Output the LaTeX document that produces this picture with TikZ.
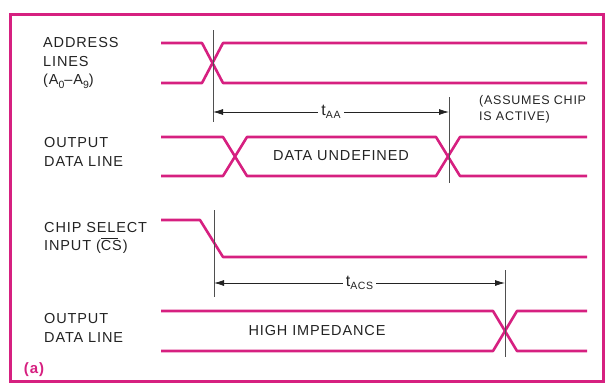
\documentclass[tikz,border=0pt]{standalone}
\usepackage{fontspec}
\setmainfont{Liberation Sans}[LetterSpace=6]
\usetikzlibrary{arrows.meta}
\definecolor{mag}{RGB}{214,32,128}
\definecolor{ink}{RGB}{35,35,35}
\newcommand{\subx}[1]{\raisebox{-3.5pt}{\fontsize{10.5}{11}\selectfont #1}}
\begin{document}
\begin{tikzpicture}[x=1pt,y=-1pt,
  wave/.style={draw=mag,line width=2.6pt,line join=round},
  frame/.style={draw=mag,line width=3pt},
  lbl/.style={anchor=west,inner sep=0pt,text=ink,font=\fontsize{14.5}{18.5}\selectfont,align=left},
  mid/.style={inner sep=0pt,text=ink,font=\fontsize{14.5}{18}\selectfont},
  tick/.style={draw=ink!80,line width=0.8pt},
  dim/.style={draw=ink,line width=0.8pt,{Latex[length=10pt,width=6pt]}-{Latex[length=10pt,width=6pt]}},
  tl/.style={fill=white,inner sep=3pt,text=ink,font=\fontsize{16}{18}\selectfont}]
\useasboundingbox (0,0) rectangle (605,383);
\draw[frame] (10,14) rectangle (603,381);
% labels
\node[lbl] (la) at (43,63) {ADDRESS\\LINES\\(A\subx{0}--A\subx{9})};
\node[lbl] (lo1) at (44,152) {OUTPUT\\DATA LINE};
\node[lbl] (lc) at (44,238) {CHIP SELECT\\INPUT (\makebox[0pt][l]{\rule[12pt]{17pt}{0.7pt}}CS)};
\node[lbl] (lo2) at (44,328) {OUTPUT\\DATA LINE};
\node[inner sep=0pt,text=mag,font=\bfseries\fontsize{15}{16}\selectfont] (fa) at (34,370) {(a)};
% address lines
\draw[wave] (161,43) -- (202,43) -- (223,83) -- (587,83);
\draw[wave] (161,83) -- (202,83) -- (223,43) -- (587,43);
% output data line 1
\draw[wave] (161,137) -- (223,137) -- (247,176) -- (436,176) -- (460,137) -- (587,137);
\draw[wave] (161,176) -- (223,176) -- (247,137) -- (436,137) -- (460,176) -- (587,176);
\node[mid] (du) at (341,156) {DATA UNDEFINED};
% chip select
\draw[wave] (161,220) -- (200,220) -- (223,257) -- (587,257);
% output data line 2
\draw[wave] (161,311) -- (493,311) -- (517,351) -- (587,351);
\draw[wave] (161,351) -- (493,351) -- (517,311) -- (587,311);
\node[mid] (hi) at (317,331) {HIGH IMPEDANCE};
% verticals
\coordinate (v1t) at (213,30); \coordinate (v1b) at (213,122);
\coordinate (v2t) at (449,97); \coordinate (v2b) at (449,183);
\coordinate (v3t) at (214,210); \coordinate (v3b) at (214,297);
\coordinate (v4t) at (505,270); \coordinate (v4b) at (505,357);
\draw[tick] (v1t) -- (v1b);
\draw[tick] (v2t) -- (v2b);
\draw[tick] (v3t) -- (v3b);
\draw[tick] (v4t) -- (v4b);
% dimension arrows
\coordinate (a1) at (213,112); \coordinate (a2) at (449,112);
\draw[dim] (a1) -- node[tl] (taa) {t\subx{AA}} (a2);
\coordinate (b1) at (214,283); \coordinate (b2) at (505,283);
\draw[dim] (b1) -- node[tl,pos=0.5] (tacs) {t\subx{ACS}} (b2);
\node[lbl,font=\fontsize{12.5}{16}\selectfont] (as) at (479,109) {(ASSUMES CHIP\\IS ACTIVE)};
\end{tikzpicture}
\end{document}
